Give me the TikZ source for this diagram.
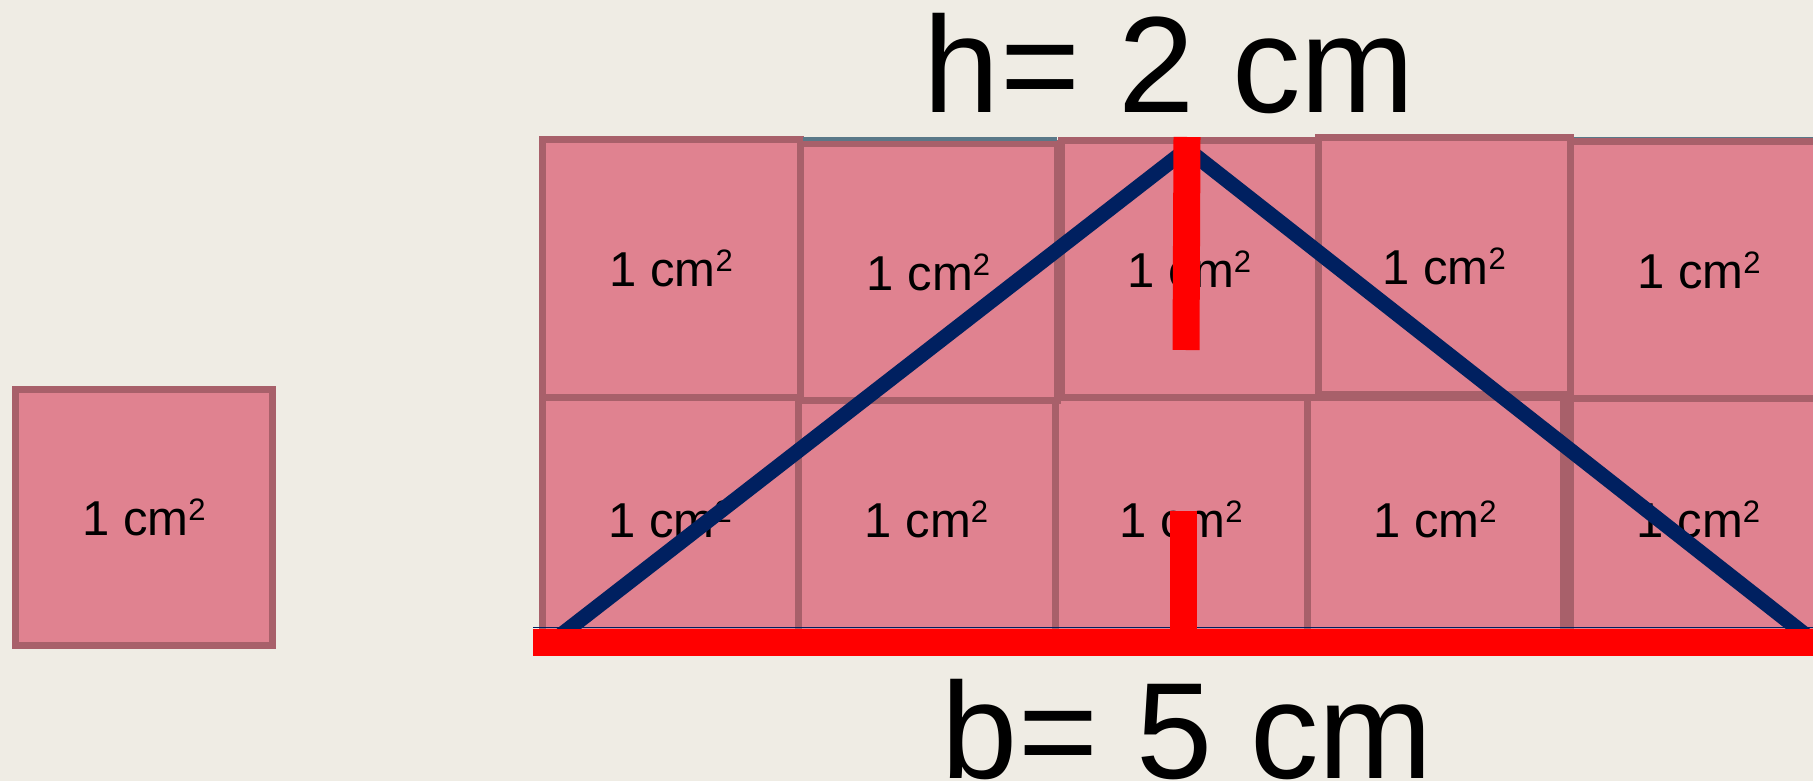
\documentclass[tikz,border=0pt]{standalone}
\usepackage{fontspec}
\setmainfont{Liberation Sans}
\definecolor{bg}{HTML}{EFECE4}
\definecolor{tile}{HTML}{E08290}
\definecolor{tileedge}{HTML}{A8606A}
\definecolor{navy}{HTML}{002060}
\definecolor{tealline}{HTML}{5A7888}
\newcommand{\unitlabel}{1 cm\raisebox{15pt}{\fontsize{31}{31}\selectfont 2}}
\tikzset{
  tilebox/.style={draw=tileedge, fill=tile, line width=7pt, inner sep=0pt,
    font=\fontsize{49}{49}\selectfont, text=black},
  bigtext/.style={font=\fontsize{137}{137}\selectfont, inner sep=0pt, anchor=base, text=black},
  triline/.style={draw=navy, line width=15pt},
  redbar/.style={draw=red, line width=27pt, line cap=butt},
}
\begin{document}
\begin{tikzpicture}[x=1pt,y=-1pt]
\useasboundingbox (0,0) rectangle (1813,781);
\fill[bg] (0,0) rectangle (1813,781);
\clip (0,0) rectangle (1813,781);

% single square
\node[tilebox, minimum width=257pt, minimum height=256pt] (single) at (144,517.5) {\unitlabel};

% bottom row
\node[tilebox, minimum width=255.5pt, minimum height=244pt] (b1) at (670.25,519) {\unitlabel};
\node[tilebox, minimum width=257pt, minimum height=244pt] (b2) at (926.5,519) {\unitlabel};
\node[tilebox, minimum width=252pt, minimum height=244pt] (b3) at (1181,519) {\unitlabel};
\node[tilebox, minimum width=256pt, minimum height=244pt] (b4) at (1435,519) {\unitlabel};
\node[tilebox, minimum width=257pt, minimum height=244pt] (b5) at (1698.5,519) {\unitlabel};

% top row
\node[tilebox, minimum width=257.5pt, minimum height=257pt] (t1) at (671.25,268.5) {\unitlabel};
\node[tilebox, minimum width=257pt, minimum height=256.5pt] (t2) at (928.5,272.25) {\unitlabel};
\node[tilebox, minimum width=257pt, minimum height=257pt] (t3) at (1189.5,269) {\unitlabel};
\node[tilebox, minimum width=252.5pt, minimum height=257pt] (t4) at (1444.25,266) {\unitlabel};
\node[tilebox, minimum width=257pt, minimum height=257pt] (t5) at (1699,270) {\unitlabel};

% thin teal edges above some tiles
\coordinate (tl1) at (803,138.7);
\coordinate (tl2) at (1057,138.7);
\coordinate (tl3) at (1574,137.3);
\coordinate (tl4) at (1813,137.3);
\draw[tealline, line width=4pt] (tl1) -- (tl2);
\draw[tealline, line width=1.5pt] (tl3) -- (tl4);

% triangle (ends run under the base bar)
\coordinate (A) at (554.5,640);
\coordinate (B) at (1187,149);
\coordinate (C) at (1812,640);
\draw[triline] (A) -- (B) -- (C);

% base bar
\coordinate (bL) at (533,642);
\coordinate (bR) at (1813,642);
\coordinate (nL) at (533,627.7);
\coordinate (nR) at (1813,627.7);
\draw[navy, line width=1.5pt] (nL) -- (nR);
\draw[redbar] (bL) -- (bR);

% height bars
\coordinate (h1) at (1187,137);
\coordinate (h2) at (1186,350);
\coordinate (h3) at (1183,511);
\coordinate (h4) at (1183,629);
\draw[redbar] (h1) -- (h2);
\draw[redbar] (h3) -- (h4);

% labels
\node[bigtext] (hlab) at (1169.5,113) {h= 2 cm};
\node[bigtext] (blab) at (1187.5,778) {b= 5 cm};
\end{tikzpicture}
\end{document}
